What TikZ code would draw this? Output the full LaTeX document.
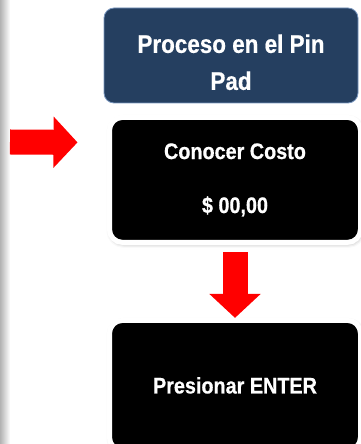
\documentclass[tikz,border=0pt]{standalone}
\usepackage{fontspec}
\setmainfont{Liberation Sans}[FakeStretch=0.88, BoldFeatures={FakeBold=0.6}]
\usepackage{xcolor}
\usepackage{tikz}
\usetikzlibrary{arrows.meta, positioning, shadows.blur}

\definecolor{navy}{RGB}{37,63,96}
\definecolor{navyedge}{RGB}{120,150,190}

\begin{document}
\begin{tikzpicture}[
    x=1pt, y=1pt,
    node distance=10pt,
    title/.style={draw=navyedge, line width=0.8pt, fill=navy, rounded corners=10pt, text=white,
        minimum width=254pt, minimum height=95pt, align=center, font=\bfseries\fontsize{25.5}{37}\selectfont},
    stepbox/.style={draw=white, line width=5pt, fill=black, rounded corners=13pt, text=white,
        minimum width=251pt, minimum height=125pt, align=center, font=\bfseries\fontsize{22.5}{27}\selectfont,
        blur shadow={shadow xshift=1pt, shadow yshift=-1.5pt, shadow blur radius=4pt, shadow opacity=35}},
    bigarrow/.style={line width=25pt, red, -{Triangle[length=24pt, width=50pt]}},
]

\useasboundingbox (0,0) rectangle (360,444);

% side bar
\shade[left color=black!30, right color=white] (0,0) rectangle (10,444);

% boxes
\node[title] (pinpad) at (231,388.5) {\rule{0pt}{32pt}Proceso en el Pin\\Pad};
\node[stepbox, below=11.5pt of pinpad, xshift=4pt] (costo) {Conocer Costo\\[27pt]\$ 00,00};
\node[stepbox, below=73pt of costo, minimum height=130pt] (enter) {Presionar ENTER};

% red arrows
\coordinate (mark) at (10,302);
\draw[bigarrow] (mark) -- ([xshift=-29.5pt, yshift=-27.5pt]costo.north west);
\draw[bigarrow] ([yshift=-7.5pt]costo.south) -- (enter.north);

\end{tikzpicture}
\end{document}
